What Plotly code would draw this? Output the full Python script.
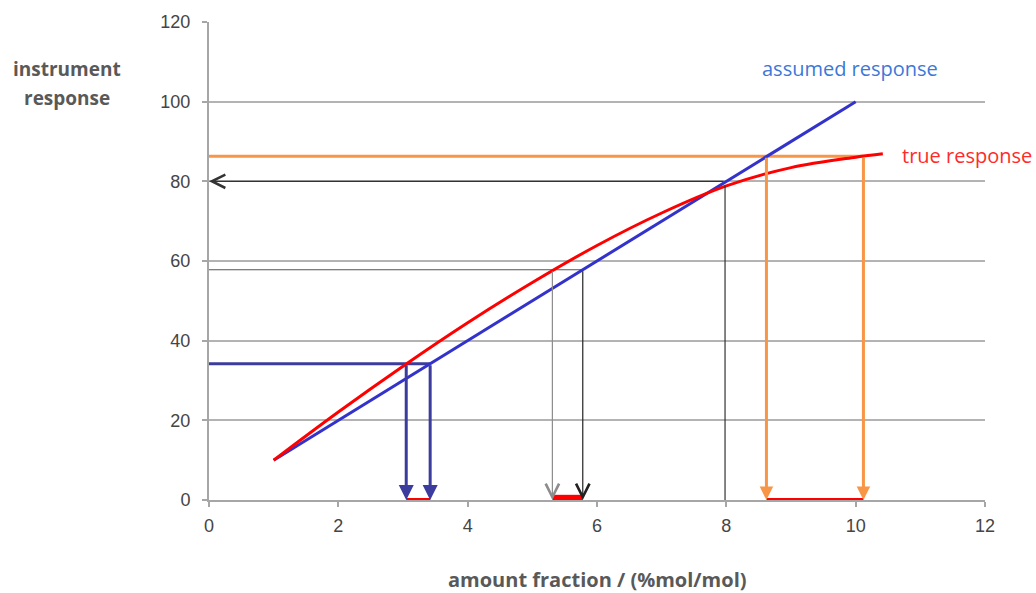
import plotly.graph_objects as go

# Assumed (linear) calibration response
assumed_x = [1, 10]
assumed_y = [10, 100]

# True (curved) instrument response
true_x = [1, 2, 3, 4, 5, 6, 7, 8, 9, 10, 10.42]
true_y = [10.0, 22.1, 33.6, 44.5, 54.6, 63.9, 72.05, 78.85, 83.45, 86.05, 86.9]

# Reading 1: low response level (blue)
low_level = 34.2
low_true_x = 3.05
low_assumed_x = 3.42

# Reading 2: mid response level (grey/black)
mid_level = 57.8
mid_true_x = 5.31
mid_assumed_x = 5.78

# Reading 3: crossing point read back to the axis
cross_x = 7.98
cross_y = 79.0
cross_read = 80

# Reading 4: high response level (orange)
high_level = 86.3
high_assumed_x = 8.62
high_true_x = 10.12

x_ticks = [0, 2, 4, 6, 8, 10, 12]
y_ticks = [0, 20, 40, 60, 80, 100, 120]

NAVY = "#3c3c9e"
BLUE = "#3333cc"
RED = "#ff0000"
ORANGE = "#f79646"
GREY_TXT = "#595959"
TICK_TXT = "#454545"

fig = go.Figure()

# Reference lines (no arrowheads)
fig.add_trace(go.Scatter(x=[0, low_assumed_x], y=[low_level, low_level], mode="lines",
                         line=dict(color=NAVY, width=3), hoverinfo="skip"))
fig.add_trace(go.Scatter(x=[0, mid_assumed_x], y=[mid_level, mid_level], mode="lines",
                         line=dict(color="#555555", width=1.2), hoverinfo="skip"))
fig.add_trace(go.Scatter(x=[0, high_true_x], y=[high_level, high_level], mode="lines",
                         line=dict(color=ORANGE, width=3), hoverinfo="skip"))

# Response curves
fig.add_trace(go.Scatter(x=assumed_x, y=assumed_y, mode="lines",
                         line=dict(color=BLUE, width=3), hoverinfo="skip"))
fig.add_trace(go.Scatter(x=true_x, y=true_y, mode="lines", line_shape="spline",
                         line=dict(color=RED, width=3, smoothing=1.0), hoverinfo="skip"))

# Error intervals on the amount axis
fig.add_trace(go.Scatter(x=[low_true_x, low_assumed_x], y=[0, 0], mode="lines",
                         line=dict(color=RED, width=4), cliponaxis=False, hoverinfo="skip"))
fig.add_trace(go.Scatter(x=[mid_true_x, mid_assumed_x], y=[0.3, 0.3], mode="lines",
                         line=dict(color=RED, width=8), cliponaxis=False, hoverinfo="skip"))
fig.add_trace(go.Scatter(x=[high_assumed_x, high_true_x], y=[0, 0], mode="lines",
                         line=dict(color=RED, width=4), cliponaxis=False, hoverinfo="skip"))

# Crossing point drop line
fig.add_trace(go.Scatter(x=[cross_x, cross_x], y=[0, cross_y], mode="lines",
                         line=dict(color="#333333", width=1.2), hoverinfo="skip"))

annotations = []


def arrow(x, y, ax, ay, color, width, head, size):
    annotations.append(dict(x=x, y=y, ax=ax, ay=ay, xref="x", yref="y", axref="x", ayref="y",
                            text="", showarrow=True, arrowhead=head, arrowsize=size,
                            arrowwidth=width, arrowcolor=color, standoff=0, startstandoff=0))


# Blue drop arrows
arrow(low_true_x, 0, low_true_x, low_level, NAVY, 3, 2, 1.0)
arrow(low_assumed_x, 0, low_assumed_x, low_level, NAVY, 3, 2, 1.0)
# Grey / black drop arrows
arrow(mid_true_x, 0, mid_true_x, mid_level, "#8c8c8c", 1.2, 5, 2.2)
arrow(mid_assumed_x, 0, mid_assumed_x, mid_level, "#222222", 1.2, 5, 2.2)
# Arrow back to the response axis
arrow(0, cross_read, cross_x, cross_read, "#333333", 1.2, 5, 2.2)
# Orange drop arrows
arrow(high_assumed_x, 0, high_assumed_x, high_level, ORANGE, 3, 2, 0.9)
arrow(high_true_x, 0, high_true_x, high_level, ORANGE, 3, 2, 0.9)

# Curve labels
annotations.append(dict(x=9.91, y=108.3, xref="x", yref="y", text="assumed response",
                        showarrow=False, xanchor="center", yanchor="middle",
                        font=dict(family="Open Sans", size=20, color="#3c78d8")))
annotations.append(dict(x=11.72, y=86.4, xref="x", yref="y", text="true response",
                        showarrow=False, xanchor="center", yanchor="middle",
                        font=dict(family="Open Sans", size=20, color="#ff2a2a")))

# Axis titles
annotations.append(dict(x=-0.183, y=0.902, xref="paper", yref="paper",
                        text="<b>instrument</b>", showarrow=False,
                        xanchor="center", yanchor="middle",
                        font=dict(family="Open Sans", size=19, color=GREY_TXT)))
annotations.append(dict(x=-0.183, y=0.840, xref="paper", yref="paper",
                        text="<b>response</b>", showarrow=False,
                        xanchor="center", yanchor="middle",
                        font=dict(family="Open Sans", size=19, color=GREY_TXT)))
annotations.append(dict(x=0.5, y=-0.166, xref="paper", yref="paper",
                        text="<b>amount fraction / (%mol/mol)</b>", showarrow=False,
                        xanchor="center", yanchor="middle",
                        font=dict(family="Open Sans", size=20, color=GREY_TXT)))

fig.update_layout(
    width=1036, height=593,
    margin=dict(l=209, r=51, t=18, b=93),
    paper_bgcolor="white", plot_bgcolor="white",
    showlegend=False,
    annotations=annotations,
    font=dict(family="Liberation Sans", size=18, color=TICK_TXT),
)
fig.update_xaxes(range=[0, 12], tickvals=x_ticks, showgrid=False, zeroline=False,
                 showline=True, linecolor="#a6a6a6", linewidth=2,
                 ticks="outside", ticklen=5, tickcolor="#a6a6a6", tickwidth=1.5,
                 ticklabelstandoff=3,
                 tickfont=dict(family="Liberation Sans", size=18, color=TICK_TXT))
fig.update_yaxes(range=[0, 120], tickvals=y_ticks, showgrid=True, gridcolor="#b3b3b3",
                 gridwidth=1.5, zeroline=False, showline=True, linecolor="#a6a6a6", linewidth=2,
                 ticks="outside", ticklen=5, tickcolor="#a6a6a6", tickwidth=1.5,
                 ticklabelstandoff=8,
                 tickfont=dict(family="Liberation Sans", size=18, color=TICK_TXT))

fig.write_html("out.html")
